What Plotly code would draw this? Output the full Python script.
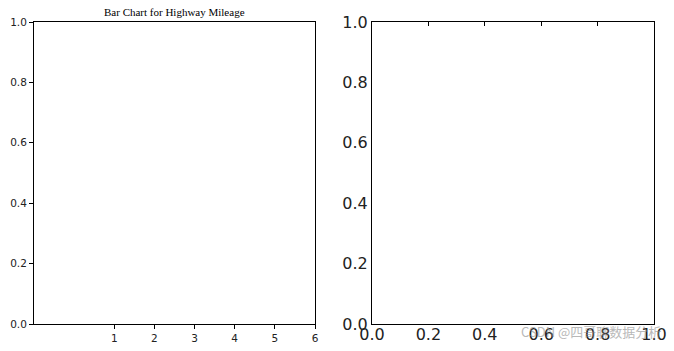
import plotly.graph_objects as go

# ---- data ----
categories = [1, 2, 3, 4, 5, 6]          # x ticks of the (empty) bar chart
mileage = [0, 0, 0, 0, 0, 0]              # no visible bars in the reference
left_xrange = [-1, 6]
unit_ticks = [0.0, 0.2, 0.4, 0.6, 0.8, 1.0]
top_inner_ticks = [0.2, 0.4, 0.6, 0.8]
title_text = "Bar Chart for Highway Mileage"
watermark = "CSDN @四哥聊数据分析"

W, H = 674, 351
def fx(a, b):
    return [a / W, b / W]
def fy(top, bottom):
    return [(H - bottom) / H, (H - top) / H]

fig = go.Figure()
fig.add_trace(go.Bar(x=categories, y=mileage, xaxis="x", yaxis="y",
                     marker=dict(color="#1f77b4", line=dict(width=0)),
                     showlegend=False, hoverinfo="skip"))
fig.add_trace(go.Scatter(x=[None], y=[None], xaxis="x2", yaxis="y2",
                         showlegend=False, hoverinfo="skip"))
fig.add_trace(go.Scatter(x=[None], y=[None], xaxis="x3", yaxis="y2",
                         showlegend=False, hoverinfo="skip"))

small = dict(family="DejaVu Sans", size=10.5, color="#222")
big = dict(family="DejaVu Sans", size=16, color="#222")

common = dict(showline=True, linecolor="black", linewidth=1, mirror=True,
              showgrid=False, zeroline=False, fixedrange=True, automargin=False)

fig.update_layout(
    width=W, height=H, margin=dict(l=0, r=0, t=0, b=0, autoexpand=False),
    paper_bgcolor="white", plot_bgcolor="white",
    xaxis=dict(domain=fx(34, 315), anchor="y", range=left_xrange,
               tickvals=categories, ticktext=[str(c) for c in categories],
               ticks="outside", ticklen=4, tickcolor="black", tickfont=small,
               **common),
    yaxis=dict(domain=fy(22, 324), anchor="x", range=[0, 1],
               tickvals=unit_ticks, ticktext=[f"{v:.1f}" for v in unit_ticks],
               ticks="outside", ticklen=4, tickcolor="black", tickfont=small,
               **common),
    xaxis2=dict(domain=fx(372, 654), anchor="y2", range=[0, 1],
                tickvals=unit_ticks, ticktext=[f"{v:.1f}" for v in unit_ticks],
                ticks="", tickfont=big, ticklabelstandoff=-4, **common),
    yaxis2=dict(domain=fy(22, 324), anchor="x2", range=[0, 1],
                tickvals=unit_ticks, ticktext=[f"{v:.1f}" for v in unit_ticks],
                ticks="", tickfont=big, **common),
    xaxis3=dict(overlaying="x2", side="top", anchor="y2", range=[0, 1],
                tickvals=top_inner_ticks, showticklabels=False,
                ticks="inside", ticklen=4, tickcolor="black", automargin=False,
                showline=False, showgrid=False, zeroline=False, fixedrange=True),
    annotations=[
        dict(text=title_text, xref="paper", yref="paper",
             x=174.5 / W, y=(H - 12) / H, xanchor="center", yanchor="middle",
             showarrow=False, font=dict(family="Liberation Serif", size=11, color="black")),
        dict(text=watermark, xref="paper", yref="paper",
             x=591 / W, y=(H - 331) / H, xanchor="center", yanchor="middle",
             showarrow=False, opacity=0.6,
             font=dict(family="Noto Sans CJK SC", size=13, color="#8a8a8a")),
    ],
)

fig.write_html("out.html")
